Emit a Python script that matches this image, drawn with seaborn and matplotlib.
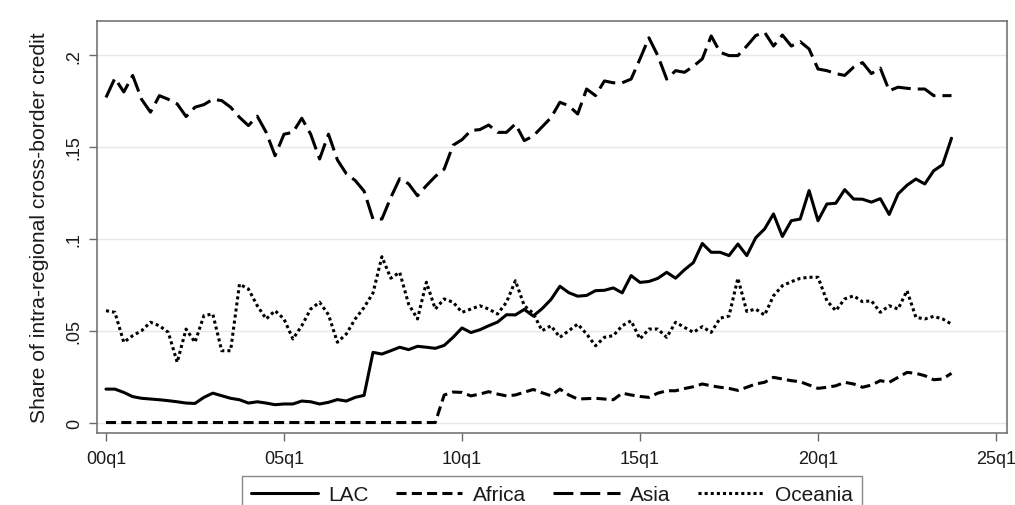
import numpy as np
import pandas as pd
import matplotlib
matplotlib.use("Agg")
import matplotlib.pyplot as plt
import seaborn as sns

# Quarterly shares, 2000q1 .. 2023q4
regions = ["LAC", "Africa", "Asia", "Oceania"]

lac = [
    0.0182, 0.0182, 0.0164, 0.0141, 0.0132, 0.0128, 0.0124, 0.0119, 0.0113, 0.0106,
    0.0104, 0.0137, 0.0160, 0.0146, 0.0132, 0.0124, 0.0106, 0.0113, 0.0106, 0.0097,
    0.0101, 0.0101, 0.0117, 0.0113, 0.0101, 0.0110, 0.0125, 0.0117, 0.0137, 0.0148,
    0.0382, 0.0373, 0.0391, 0.0410, 0.0397, 0.0415, 0.0410, 0.0404, 0.0420, 0.0464,
    0.0515, 0.0490, 0.0505, 0.0527, 0.0547, 0.0587, 0.0586, 0.0616, 0.0580, 0.0620,
    0.0670, 0.0742, 0.0707, 0.0688, 0.0692, 0.0718, 0.0720, 0.0733, 0.0706, 0.0800,
    0.0763, 0.0768, 0.0785, 0.0818, 0.0786, 0.0832, 0.0871, 0.0975, 0.0927, 0.0927,
    0.0909, 0.0972, 0.0909, 0.1006, 0.1054, 0.1136, 0.1013, 0.1099, 0.1108, 0.1263,
    0.1099, 0.1190, 0.1194, 0.1268, 0.1217, 0.1216, 0.1200, 0.1219, 0.1133, 0.1245,
    0.1292, 0.1326, 0.1299, 0.1371, 0.1404, 0.1548,
]

africa = [0.0] * 38 + [
    0.0150, 0.0166, 0.0164, 0.0145, 0.0155, 0.0168, 0.0155, 0.0145, 0.0150, 0.0165,
    0.0180, 0.0162, 0.0146, 0.0182, 0.0150, 0.0128, 0.0130, 0.0132, 0.0128, 0.0124,
    0.0160, 0.0150, 0.0142, 0.0137, 0.0160, 0.0173, 0.0173, 0.0185, 0.0195, 0.0210,
    0.0200, 0.0192, 0.0186, 0.0175, 0.0192, 0.0210, 0.0219, 0.0246, 0.0237, 0.0228,
    0.0222, 0.0204, 0.0186, 0.0192, 0.0200, 0.0219, 0.0210, 0.0192, 0.0204, 0.0228,
    0.0219, 0.0246, 0.0273, 0.0268, 0.0255, 0.0233, 0.0237, 0.0268,
]

asia = [
    0.1770, 0.1875, 0.1800, 0.1890, 0.1760, 0.1690, 0.1780, 0.1760, 0.1735, 0.1666,
    0.1717, 0.1731, 0.1760, 0.1753, 0.1717, 0.1662, 0.1617, 0.1668, 0.1580, 0.1453,
    0.1570, 0.1580, 0.1657, 0.1570, 0.1435, 0.1570, 0.1430, 0.1355, 0.1318, 0.1260,
    0.1108, 0.1108, 0.1225, 0.1328, 0.1300, 0.1235, 0.1290, 0.1340, 0.1380, 0.1510,
    0.1540, 0.1590, 0.1595, 0.1620, 0.1580, 0.1580, 0.1626, 0.1535, 0.1560, 0.1610,
    0.1660, 0.1744, 0.1725, 0.1680, 0.1816, 0.1780, 0.1860, 0.1850, 0.1850, 0.1870,
    0.1980, 0.2095, 0.1998, 0.1870, 0.1916, 0.1907, 0.1940, 0.1980, 0.2105, 0.2016,
    0.1998, 0.1998, 0.2050, 0.2107, 0.2125, 0.2050, 0.2110, 0.2050, 0.2074, 0.2034,
    0.1925, 0.1916, 0.1900, 0.1890, 0.1935, 0.1960, 0.1900, 0.1930, 0.1807, 0.1826,
    0.1820, 0.1816, 0.1816, 0.1780, 0.1780, 0.1780,
]

oceania = [
    0.0609, 0.0600, 0.0437, 0.0473, 0.0500, 0.0546, 0.0527, 0.0491, 0.0328, 0.0509,
    0.0437, 0.0582, 0.0591, 0.0391, 0.0391, 0.0754, 0.0727, 0.0636, 0.0564, 0.0609,
    0.0564, 0.0455, 0.0527, 0.0618, 0.0655, 0.0587, 0.0437, 0.0482, 0.0564, 0.0627,
    0.0705, 0.0903, 0.0786, 0.0818, 0.0645, 0.0564, 0.0764, 0.0618, 0.0673, 0.0655,
    0.0600, 0.0618, 0.0636, 0.0618, 0.0591, 0.0655, 0.0772, 0.0636, 0.0595, 0.0500,
    0.0527, 0.0464, 0.0500, 0.0536, 0.0482, 0.0418, 0.0464, 0.0473, 0.0527, 0.0554,
    0.0455, 0.0509, 0.0509, 0.0464, 0.0546, 0.0518, 0.0491, 0.0522, 0.0491, 0.0568,
    0.0580, 0.0786, 0.0605, 0.0618, 0.0585, 0.0690, 0.0745, 0.0767, 0.0785, 0.0791,
    0.0791, 0.0663, 0.0609, 0.0673, 0.0690, 0.0658, 0.0663, 0.0600, 0.0636, 0.0618,
    0.0718, 0.0573, 0.0564, 0.0578, 0.0564, 0.0536,
]

x_ticks = [0, 20, 40, 60, 80, 100]
x_tick_labels = ["00q1", "05q1", "10q1", "15q1", "20q1", "25q1"]
y_ticks = [0, 0.05, 0.10, 0.15, 0.20]
y_tick_labels = ["0", ".05", ".1", ".15", ".2"]
y_title = "Share of intra-regional cross-border credit"

n = len(lac)
df = pd.DataFrame({
    "quarter": np.tile(np.arange(n), len(regions)),
    "share": np.concatenate([lac, africa, asia, oceania]),
    "region": np.repeat(regions, n),
})

sns.set_theme(style="white")
plt.rcParams["font.family"] = ["Liberation Sans", "DejaVu Sans"]

fig = plt.figure(figsize=(10.15, 5.06), dpi=100)
ax = fig.add_axes([0.0953, 0.1423, 0.8965, 0.8148])

line_w = 2.2
dash_map = {"LAC": "", "Africa": (3.3, 1.7), "Asia": (6.5, 2.3), "Oceania": (1.0, 1.0)}
sns.lineplot(data=df, x="quarter", y="share", style="region", style_order=regions,
             dashes=dash_map, color="black", linewidth=line_w, ax=ax, legend="brief")

ax.set_xlim(-1.04, 101.2)
ax.set_ylim(-0.0057, 0.2188)
ax.set_xticks(x_ticks)
ax.set_xticklabels(x_tick_labels, fontsize=13)
ax.set_yticks(y_ticks)
ax.set_yticklabels(y_tick_labels, fontsize=13, rotation=90, va="center")
ax.set_xlabel("")
ax.set_ylabel(y_title, fontsize=15.2, labelpad=12)

ax.yaxis.grid(True, color="#e8e8e8", linewidth=1.0)
ax.xaxis.grid(False)
ax.set_axisbelow(True)
for sp in ax.spines.values():
    sp.set_color("#6a6a6a")
    sp.set_linewidth(1.1)
ax.tick_params(axis="both", which="both", bottom=True, left=True, direction="out",
               length=6, width=1.0, color="#6a6a6a", labelcolor="#1a1a1a")
ax.tick_params(axis="x", pad=6)
ax.tick_params(axis="y", pad=4)
ax.yaxis.label.set_color("#1a1a1a")

old = ax.get_legend()
handles = list(old.legend_handles)
labels = [t.get_text() for t in old.get_texts()]
old.remove()
for h, lab in zip(handles, labels):
    h.set_color("black")
    h.set_linewidth(line_w)
    if dash_map[lab]:
        h.set_dashes(dash_map[lab])
    else:
        h.set_linestyle("-")

leg = ax.legend(handles, labels, ncol=4, loc="upper center", bbox_to_anchor=(0.5, -0.104),
                frameon=True, fancybox=False, fontsize=15, handlelength=3.2,
                handletextpad=0.5, columnspacing=1.3, borderpad=0.45, borderaxespad=0)
leg.get_frame().set_edgecolor("#6a6a6a")
leg.get_frame().set_linewidth(1.0)
for t in leg.get_texts():
    t.set_color("#1a1a1a")

fig.savefig("out.png", dpi=100)
